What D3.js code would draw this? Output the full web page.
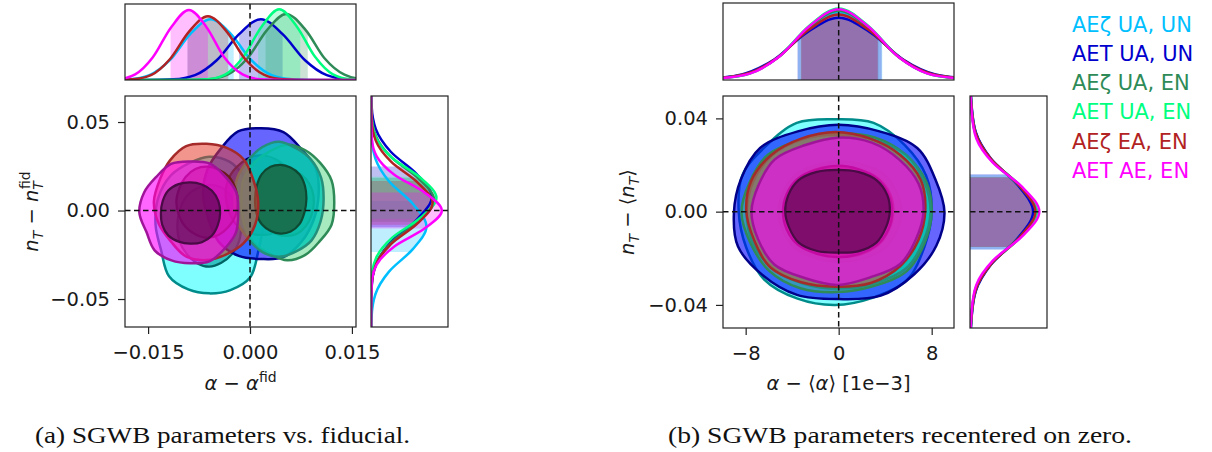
<!DOCTYPE html>
<html>
<head>
<meta charset="utf-8">
<script src="https://cdn.jsdelivr.net/npm/d3@7"></script>
<style>
  body { margin: 0; background: #fff; }
  svg { display: block; }
</style>
</head>
<body>
<svg id="chart" width="1212" height="452" font-family="DejaVu Sans, sans-serif" fill="#1a1a1a"></svg>
<script>
// ---- series ----
const seriesNames = ["AEζ UA, UN", "AET UA, UN", "AEζ UA, EN", "AET UA, EN", "AEζ EA, EN", "AET AE, EN"];
const lineColors = ["#00bfff", "#0000cd", "#2e8b57", "#00ff7f", "#b22222", "#ff00ff"];
const outerFill = ["#00ffff", "#0000ff", "#3cd070", "#00c8b4", "#e84030", "#ff00ff"];
const outerAlpha = [0.5, 0.6, 0.45, 0.8, 0.55, 0.6];
const innerFill = ["#009a9a", "#0000a8", "#1e7a4a", "#1a6a48", "#8b2a2a", "#3a0535"];
const innerAlpha = [0.6, 0.6, 0.6, 0.9, 0.55, 0.55];
const outerEdge = ["#008b8b", "#00008b", "#2e8b57", "#24907c", "#a52a2a", "#a0149a"];
const innerEdge = ["#006464", "#000066", "#1e5b3a", "#0e4a33", "#6a1a1a", "#4a0a45"];

// ---- panel (a): vs fiducial ----
const xDomainA = [-0.0184, 0.0156];
const yDomainA = [-0.0658, 0.0647];
const xTicksA = [-0.015, 0, 0.015];
const xTickLabelsA = ["−0.015", "0.000", "0.015"];
const yTicksA = [-0.05, 0, 0.05];
const yTickLabelsA = ["−0.05", "0.00", "0.05"];

// 2D contours: [centre x, centre y, radius x, radius y]
const outerA = [
  [-0.0060, -0.0082, 0.0079, 0.0386],
  [0.0016, 0.0090, 0.0085, 0.0375],
  [0.0055, 0.0045, 0.0069, 0.0320],
  [0.0043, 0.0062, 0.0066, 0.0320],
  [-0.0064, 0.0050, 0.0076, 0.0330],
  [-0.0088, -0.0012, 0.0072, 0.0292]
];
const innerA = [
  [-0.0060, -0.0085, 0.0047, 0.0230],
  [0.0016, 0.0085, 0.0052, 0.0225],
  [0.0053, 0.0045, 0.0041, 0.0190],
  [0.0045, 0.0064, 0.0038, 0.0194],
  [-0.0063, 0.0048, 0.0045, 0.0200],
  [-0.0088, -0.0015, 0.0044, 0.0174]
];
// edge wobble, 16 directions starting east, counter-clockwise
const wobOuterA = [
  [1.0, 1.02, 0.97, 1.0, 1.0, 0.98, 1.02, 1.03, 1.0, 0.97, 1.06, 1.02, 1.0, 1.03, 1.08, 0.99],
  [1.0, 1.03, 0.98, 1.02, 1.0, 1.03, 0.98, 1.0, 1.0, 0.98, 1.02, 1.0, 0.97, 1.02, 1.0, 0.99],
  [1.0, 1.02, 0.99, 1.0, 1.02, 0.98, 1.0, 1.02, 0.98, 1.0, 1.01, 0.98, 1.02, 1.0, 0.97, 1.02],
  [0.99, 1.01, 1.0, 0.98, 1.02, 1.0, 0.98, 1.01, 1.0, 1.02, 0.98, 1.0, 1.01, 0.99, 1.02, 1.0],
  [1.0, 0.98, 1.02, 1.0, 0.99, 1.03, 1.0, 0.98, 1.02, 1.0, 0.97, 1.02, 1.0, 0.98, 1.01, 1.02],
  [0.98, 1.02, 1.0, 1.03, 0.99, 1.02, 0.98, 1.02, 1.04, 0.97, 1.03, 1.0, 0.98, 1.02, 0.99, 1.01]
];
const wobInnerA = [
  [1.0, 1.01, 0.99, 1.01, 1.0, 0.99, 1.01, 1.0, 1.0, 1.01, 0.99, 1.0, 1.01, 0.99, 1.0, 1.01],
  [1.0, 0.99, 1.01, 1.0, 1.01, 1.0, 0.99, 1.01, 1.0, 0.99, 1.01, 1.0, 0.99, 1.01, 1.0, 1.0],
  [1.0, 1.01, 1.0, 0.99, 1.01, 1.0, 1.02, 1.0, 0.99, 1.0, 1.01, 1.0, 0.99, 1.01, 1.0, 0.99],
  [1.0, 1.02, 1.03, 1.0, 1.0, 1.02, 1.03, 1.0, 0.99, 1.02, 1.03, 1.0, 1.0, 1.02, 1.03, 1.0],
  [1.0, 1.0, 1.01, 0.99, 1.0, 1.01, 1.0, 0.99, 1.01, 1.0, 1.0, 0.99, 1.01, 1.0, 0.99, 1.0],
  [1.0, 1.02, 1.03, 1.01, 1.0, 1.02, 1.04, 1.0, 0.98, 1.01, 1.03, 1.0, 0.99, 1.02, 1.03, 1.0]
];

// 1D marginals: [value, relative density]
const topA = [
  [[-0.0218, 0], [-0.0178, 0.009], [-0.0148, 0.064], [-0.0118, 0.26], [-0.0088, 0.604], [-0.0058, 0.80], [-0.0028, 0.604], [0.0002, 0.26], [0.0032, 0.064], [0.0062, 0.009], [0.0102, 0]],
  [[-0.0156, 0], [-0.0113, 0.009], [-0.0081, 0.064], [-0.0049, 0.26], [-0.0016, 0.604], [0.0016, 0.80], [0.0048, 0.604], [0.0081, 0.26], [0.0113, 0.064], [0.0145, 0.009], [0.0188, 0]],
  [[-0.0099, 0], [-0.0061, 0.0097], [-0.0033, 0.070], [-0.0004, 0.283], [0.0025, 0.657], [0.0053, 0.87], [0.0082, 0.657], [0.011, 0.283], [0.0139, 0.070], [0.0167, 0.0097], [0.0205, 0]],
  [[-0.0097, 0], [-0.0062, 0.010], [-0.0036, 0.074], [-0.0010, 0.302], [0.0017, 0.702], [0.0043, 0.93], [0.0069, 0.702], [0.0096, 0.302], [0.0122, 0.074], [0.0148, 0.010], [0.0183, 0]],
  [[-0.021, 0], [-0.0173, 0.0093], [-0.0145, 0.067], [-0.0118, 0.273], [-0.009, 0.634], [-0.0062, 0.84], [-0.0034, 0.634], [-0.0007, 0.273], [0.0021, 0.067], [0.0049, 0.0093], [0.0086, 0]],
  [[-0.023, 0], [-0.0195, 0.010], [-0.0169, 0.074], [-0.0143, 0.299], [-0.0116, 0.695], [-0.009, 0.92], [-0.0064, 0.695], [-0.0038, 0.299], [-0.0011, 0.074], [0.0015, 0.010], [0.005, 0]]
];
const sideA = [
  [[-0.077, 0], [-0.060, 0.008], [-0.0473, 0.057], [-0.0345, 0.234], [-0.0218, 0.543], [-0.009, 0.72], [0.0038, 0.543], [0.0165, 0.234], [0.0293, 0.057], [0.042, 0.008], [0.059, 0]],
  [[-0.0603, 0], [-0.0433, 0.0087], [-0.0306, 0.063], [-0.0178, 0.257], [-0.0051, 0.596], [0.0077, 0.79], [0.0205, 0.596], [0.0332, 0.257], [0.046, 0.063], [0.0587, 0.0087], [0.0757, 0]],
  [[-0.058, 0], [-0.042, 0.009], [-0.030, 0.065], [-0.018, 0.266], [-0.006, 0.619], [0.006, 0.82], [0.018, 0.619], [0.030, 0.266], [0.042, 0.065], [0.054, 0.009], [0.070, 0]],
  [[-0.0528, 0], [-0.0378, 0.0094], [-0.0266, 0.068], [-0.0153, 0.276], [-0.0041, 0.642], [0.0072, 0.85], [0.0185, 0.642], [0.0297, 0.276], [0.041, 0.068], [0.0522, 0.0094], [0.0672, 0]],
  [[-0.0577, 0], [-0.0422, 0.0089], [-0.0306, 0.064], [-0.019, 0.26], [-0.0073, 0.604], [0.0043, 0.80], [0.0159, 0.604], [0.0276, 0.26], [0.0392, 0.064], [0.0508, 0.0089], [0.0663, 0]],
  [[-0.0544, 0], [-0.0408, 0.010], [-0.0306, 0.074], [-0.0204, 0.299], [-0.0102, 0.695], [0, 0.92], [0.0102, 0.695], [0.0204, 0.299], [0.0306, 0.074], [0.0408, 0.010], [0.0544, 0]]
];
const bandTopA = [[-0.0092, -0.0024], [-0.0016, 0.0048], [0.0023, 0.0085], [0.0012, 0.0074], [-0.0092, -0.0032], [-0.0117, -0.0062]];
const bandSideA = [[-0.0235, 0.0055], [-0.0095, 0.0249], [-0.0064, 0.0184], [-0.0047, 0.0191], [-0.0081, 0.0167], [-0.0102, 0.0102]];

// ---- panel (b): recentered ----
const xDomainB = [-9.95, 9.92];
const yDomainB = [-0.0499, 0.0496];
const xTicksB = [-8, 0, 8];
const xTickLabelsB = ["−8", "0", "8"];
const yTicksB = [-0.04, 0, 0.04];
const yTickLabelsB = ["−0.04", "0.00", "0.04"];

const outerB = [
  [-0.3, 0.0, 8.3, 0.0396],
  [0.0, -0.0003, 9.1, 0.0372],
  [-0.1, -0.0005, 8.1, 0.0340],
  [0.0, 0.0, 7.9, 0.0330],
  [-0.25, 0.0005, 7.7, 0.0330],
  [-0.1, 0.0, 7.4, 0.0308]
];
const innerB = [
  [-0.2, 0.0, 4.9, 0.0205],
  [0.1, 0.0, 5.3, 0.0215],
  [0.0, 0.0, 4.8, 0.0200],
  [0.0, 0.0, 4.7, 0.0195],
  [-0.1, 0.0, 4.7, 0.0195],
  [-0.1, 0.0, 4.5, 0.0179]
];
const wobOuterB = [
  [1.0, 1.02, 1.02, 1.04, 1.0, 1.04, 1.01, 1.04, 1.0, 1.0, 1.04, 1.02, 1.01, 1.01, 1.05, 1.0],
  [1.0, 0.99, 1.05, 1.01, 1.01, 1.01, 1.05, 1.0, 0.99, 1.03, 1.02, 1.03, 1.0, 1.04, 1.01, 1.0],
  [1.0, 1.02, 1.03, 1.03, 1.0, 1.0, 1.04, 1.01, 1.02, 1.0, 1.03, 1.03, 1.0, 1.0, 1.04, 1.0],
  [1.0, 1.01, 1.04, 1.01, 1.0, 1.02, 1.03, 1.01, 1.0, 1.02, 1.03, 1.01, 1.0, 1.01, 1.04, 1.0],
  [1.0, 1.03, 1.02, 1.01, 1.02, 1.01, 1.02, 1.02, 1.0, 0.99, 1.04, 1.01, 0.99, 1.02, 1.02, 1.0],
  [1.0, 1.02, 1.02, 1.04, 1.03, 1.0, 1.03, 0.99, 1.0, 1.0, 1.04, 1.0, 1.02, 0.99, 1.03, 0.99]
];
const wobInnerB = [
  [1.0, 1.01, 1.03, 1.01, 1.0, 1.01, 1.03, 1.0, 1.0, 1.01, 1.03, 1.0, 1.0, 1.01, 1.03, 1.0],
  [1.0, 1.0, 1.03, 1.01, 1.0, 1.01, 1.03, 1.0, 1.0, 1.0, 1.03, 1.01, 1.0, 1.01, 1.03, 1.0],
  [1.0, 1.01, 1.04, 1.0, 1.0, 1.01, 1.03, 1.01, 1.0, 1.0, 1.04, 1.0, 1.0, 1.01, 1.03, 1.0],
  [1.0, 1.02, 1.03, 1.0, 1.0, 1.02, 1.03, 1.0, 1.0, 1.01, 1.03, 1.01, 1.0, 1.02, 1.03, 1.0],
  [1.0, 1.01, 1.03, 1.01, 1.01, 1.0, 1.03, 1.01, 1.0, 1.01, 1.03, 1.0, 1.0, 1.01, 1.03, 1.01],
  [1.0, 1.03, 1.06, 1.03, 1.0, 1.03, 1.06, 1.02, 1.0, 1.0, 1.05, 1.02, 0.98, 1.03, 1.05, 1.0]
];

const topB = [
  [[-14, 0.004], [-10.5, 0.022], [-7.88, 0.079], [-5.25, 0.290], [-2.63, 0.664], [0, 0.88], [2.63, 0.664], [5.25, 0.290], [7.88, 0.079], [10.5, 0.022], [14, 0.004]],
  [[-14.8, 0.003], [-11.1, 0.020], [-8.33, 0.073], [-5.55, 0.267], [-2.78, 0.612], [0, 0.81], [2.78, 0.612], [5.55, 0.267], [8.33, 0.073], [11.1, 0.020], [14.8, 0.003]],
  [[-13.8, 0.004], [-10.35, 0.023], [-7.76, 0.081], [-5.18, 0.297], [-2.59, 0.680], [0, 0.90], [2.59, 0.680], [5.18, 0.297], [7.76, 0.081], [10.35, 0.023], [13.8, 0.004]],
  [[-13.6, 0.004], [-10.2, 0.023], [-7.65, 0.084], [-5.1, 0.307], [-2.55, 0.702], [0, 0.93], [2.55, 0.702], [5.1, 0.307], [7.65, 0.084], [10.2, 0.023], [13.6, 0.004]],
  [[-14.2, 0.003], [-10.65, 0.021], [-7.99, 0.077], [-5.33, 0.281], [-2.66, 0.642], [0, 0.85], [2.66, 0.642], [5.33, 0.281], [7.99, 0.077], [10.65, 0.021], [14.2, 0.003]],
  [[-13.6, 0.004], [-10.2, 0.023], [-7.65, 0.083], [-5.1, 0.304], [-2.55, 0.695], [0, 0.92], [2.55, 0.695], [5.1, 0.304], [7.65, 0.083], [10.2, 0.023], [13.6, 0.004]]
];
const sideB = [
  [[-0.06, 0.003], [-0.045, 0.021], [-0.0338, 0.075], [-0.0225, 0.274], [-0.0113, 0.627], [0, 0.83], [0.0113, 0.627], [0.0225, 0.274], [0.0338, 0.075], [0.045, 0.021], [0.06, 0.003]],
  [[-0.0608, 0.003], [-0.0456, 0.0205], [-0.0342, 0.074], [-0.0228, 0.271], [-0.0114, 0.619], [0, 0.82], [0.0114, 0.619], [0.0228, 0.271], [0.0342, 0.074], [0.0456, 0.0205], [0.0608, 0.003]],
  [[-0.058, 0.003], [-0.0435, 0.0215], [-0.0326, 0.077], [-0.0218, 0.284], [-0.0109, 0.649], [0, 0.86], [0.0109, 0.649], [0.0218, 0.284], [0.0326, 0.077], [0.0435, 0.0215], [0.058, 0.003]],
  [[-0.058, 0.003], [-0.0435, 0.022], [-0.0326, 0.078], [-0.0218, 0.287], [-0.0109, 0.657], [0, 0.87], [0.0109, 0.657], [0.0218, 0.287], [0.0326, 0.078], [0.0435, 0.022], [0.058, 0.003]],
  [[-0.0592, 0.003], [-0.0444, 0.021], [-0.0333, 0.077], [-0.0222, 0.281], [-0.0111, 0.642], [0, 0.85], [0.0111, 0.642], [0.0222, 0.281], [0.0333, 0.077], [0.0444, 0.021], [0.0592, 0.003]],
  [[-0.056, 0.004], [-0.042, 0.0225], [-0.0315, 0.081], [-0.021, 0.297], [-0.0105, 0.680], [0, 0.90], [0.0105, 0.680], [0.021, 0.297], [0.0315, 0.081], [0.042, 0.0225], [0.056, 0.004]]
];
const bandTopB = [[-3.5, 3.75], [-3.55, 3.7], [-3.2, 3.4], [-3.2, 3.4], [-3.25, 3.35], [-3.2, 3.4]];
const bandSideB = [[-0.0162, 0.0158], [-0.0162, 0.0160], [-0.0152, 0.0148], [-0.0152, 0.0148], [-0.0152, 0.0148], [-0.0150, 0.0146]];

const captions = ["(a) SGWB parameters vs. fiducial.", "(b) SGWB parameters recentered on zero."];

// ---- drawing ----
const svg = d3.select("#chart");
const defs = svg.append("defs");

const panels = [
  {
    id: "a",
    main: { x0: 125, x1: 356, y0: 96, y1: 327 },
    topBox: { y0: 4, y1: 80 },
    sideBox: { x0: 371, x1: 448 },
    xDomain: xDomainA, yDomain: yDomainA,
    xTicks: xTicksA, xTickLabels: xTickLabelsA, yTicks: yTicksA, yTickLabels: yTickLabelsA,
    outer: outerA, inner: innerA, wobO: wobOuterA, wobI: wobInnerA,
    top: topA, side: sideA, bandTop: bandTopA, bandSide: bandSideA,
    xLabel: [{ t: "α", it: true }, { t: " − " }, { t: "α", it: true }, { t: "fid", sup: true }],
    yLabel: [{ t: "n", it: true }, { t: "T", it: true, sub: true }, { t: " − " }, { t: "n", it: true },
             { t: "T", it: true, sub: true }, { t: "fid", sup: true, dx: -8 }],
    yLabelX: 38,
    caption: captions[0], captionX: 35, captionW: 375
  },
  {
    id: "b",
    main: { x0: 723, x1: 954, y0: 96, y1: 328 },
    topBox: { y0: 3, y1: 80 },
    sideBox: { x0: 970, x1: 1047 },
    xDomain: xDomainB, yDomain: yDomainB,
    xTicks: xTicksB, xTickLabels: xTickLabelsB, yTicks: yTicksB, yTickLabels: yTickLabelsB,
    outer: outerB, inner: innerB, wobO: wobOuterB, wobI: wobInnerB,
    top: topB, side: sideB, bandTop: bandTopB, bandSide: bandSideB,
    xLabel: [{ t: "α", it: true }, { t: " − ⟨" }, { t: "α", it: true }, { t: "⟩ [1e−3]" }],
    yLabel: [{ t: "n", it: true }, { t: "T", it: true, sub: true }, { t: " − ⟨" }, { t: "n", it: true },
             { t: "T", it: true, sub: true }, { t: "⟩" }],
    yLabelX: 634,
    caption: captions[1], captionX: 668, captionW: 464
  }
];

function mathLabel(sel, parts) {
  let shift = 0;
  parts.forEach(p => {
    const target = p.sub ? 5 : p.sup ? -8 : 0;
    const ts = sel.append("tspan").text(p.t).attr("dy", target - shift);
    shift = target;
    if (p.it) ts.attr("font-style", "italic");
    if (p.sub || p.sup) ts.attr("font-size", 14);
    if (p.dx) ts.attr("dx", p.dx);
  });
}

function ring(c, wob) {
  return wob.map((w, i) => {
    const t = 2 * Math.PI * i / wob.length;
    return [c[0] + c[2] * w * Math.cos(t), c[1] + c[3] * w * Math.sin(t)];
  });
}

function clipRect(id, x, y, w, h) {
  defs.append("clipPath").attr("id", id)
    .append("rect").attr("x", x).attr("y", y).attr("width", w).attr("height", h);
  return "url(#" + id + ")";
}

function drawPanel(p) {
  const m = p.main;
  const x = d3.scaleLinear().domain(p.xDomain).range([m.x0, m.x1]);
  const y = d3.scaleLinear().domain(p.yDomain).range([m.y1, m.y0]);
  const hTop = d3.scaleLinear().domain([0, 1]).range([p.topBox.y1, p.topBox.y0]);
  const hSide = d3.scaleLinear().domain([0, 1]).range([p.sideBox.x0, p.sideBox.x1]);

  // ----- 2D contours -----
  const gMain = svg.append("g")
    .attr("clip-path", clipRect("clip-main-" + p.id, m.x0, m.y0, m.x1 - m.x0, m.y1 - m.y0));
  const contour = d3.line().x(d => x(d[0])).y(d => y(d[1])).curve(d3.curveCatmullRomClosed.alpha(0.5));
  seriesNames.forEach((s, i) => {
    gMain.append("path").attr("d", contour(ring(p.outer[i], p.wobO[i])))
      .attr("fill", outerFill[i]).attr("fill-opacity", outerAlpha[i])
      .attr("stroke", outerEdge[i]).attr("stroke-width", 2.5);
    gMain.append("path").attr("d", contour(ring(p.inner[i], p.wobI[i])))
      .attr("fill", innerFill[i]).attr("fill-opacity", innerAlpha[i])
      .attr("stroke", innerEdge[i]).attr("stroke-width", 2.2);
  });

  // ----- top marginal -----
  const tb = p.topBox;
  const gTop = svg.append("g")
    .attr("clip-path", clipRect("clip-top-" + p.id, m.x0, tb.y0, m.x1 - m.x0, tb.y1 - tb.y0));
  const areaTop = d3.area().x(d => x(d[0])).y0(hTop(0)).y1(d => hTop(d[1])).curve(d3.curveMonotoneX);
  const lineTop = d3.line().x(d => x(d[0])).y(d => hTop(d[1])).curve(d3.curveMonotoneX);
  const padTop = k => [[p.xDomain[0] - 1, 0], ...k, [p.xDomain[1] + 1, 0]];
  seriesNames.forEach((s, i) => {
    const b = p.bandTop[i];
    const cid = clipRect("clip-bt-" + p.id + i, x(b[0]), tb.y0, x(b[1]) - x(b[0]), tb.y1 - tb.y0);
    gTop.append("g").attr("clip-path", cid).append("path")
      .attr("d", areaTop(p.top[i])).attr("fill", lineColors[i]).attr("fill-opacity", 0.25);
  });
  seriesNames.forEach((s, i) => {
    gTop.append("path").attr("d", lineTop(padTop(p.top[i])))
      .attr("fill", "none").attr("stroke", lineColors[i]).attr("stroke-width", 2.5);
  });

  // ----- side marginal -----
  const sb = p.sideBox;
  const gSide = svg.append("g")
    .attr("clip-path", clipRect("clip-side-" + p.id, sb.x0, m.y0, sb.x1 - sb.x0, m.y1 - m.y0));
  const areaSide = d3.area().y(d => y(d[0])).x0(hSide(0)).x1(d => hSide(d[1])).curve(d3.curveMonotoneY);
  const lineSide = d3.line().y(d => y(d[0])).x(d => hSide(d[1])).curve(d3.curveMonotoneY);
  const padSide = k => [[p.yDomain[0] - 1, 0], ...k, [p.yDomain[1] + 1, 0]];
  seriesNames.forEach((s, i) => {
    const b = p.bandSide[i];
    const cid = clipRect("clip-bs-" + p.id + i, sb.x0, y(b[1]), sb.x1 - sb.x0, y(b[0]) - y(b[1]));
    gSide.append("g").attr("clip-path", cid).append("path")
      .attr("d", areaSide(p.side[i])).attr("fill", lineColors[i]).attr("fill-opacity", 0.25);
  });
  seriesNames.forEach((s, i) => {
    gSide.append("path").attr("d", lineSide(padSide(p.side[i])))
      .attr("fill", "none").attr("stroke", lineColors[i]).attr("stroke-width", 2.5);
  });

  // ----- reference dashed lines -----
  const dash = "5.5,3.5";
  svg.append("line").attr("x1", x(0)).attr("x2", x(0)).attr("y1", m.y0).attr("y2", m.y1)
    .attr("stroke", "#111").attr("stroke-width", 1.5).attr("stroke-dasharray", dash);
  svg.append("line").attr("x1", m.x0).attr("x2", m.x1).attr("y1", y(0)).attr("y2", y(0))
    .attr("stroke", "#111").attr("stroke-width", 1.5).attr("stroke-dasharray", dash);
  svg.append("line").attr("x1", x(0)).attr("x2", x(0)).attr("y1", tb.y0).attr("y2", tb.y1)
    .attr("stroke", "#111").attr("stroke-width", 1.5).attr("stroke-dasharray", dash);
  svg.append("line").attr("x1", sb.x0).attr("x2", sb.x1).attr("y1", y(0)).attr("y2", y(0))
    .attr("stroke", "#111").attr("stroke-width", 1.5).attr("stroke-dasharray", dash);

  // ----- frames -----
  [[m.x0, m.y0, m.x1, m.y1], [m.x0, tb.y0, m.x1, tb.y1], [sb.x0, m.y0, sb.x1, m.y1]].forEach(r => {
    svg.append("rect").attr("x", r[0]).attr("y", r[1]).attr("width", r[2] - r[0]).attr("height", r[3] - r[1])
      .attr("fill", "none").attr("stroke", "#222").attr("stroke-width", 1.2);
  });

  // ----- axes -----
  const ax = svg.append("g").attr("transform", `translate(0,${m.y1})`)
    .call(d3.axisBottom(x).tickValues(p.xTicks).tickFormat((d, i) => p.xTickLabels[i]).tickSize(7).tickPadding(11));
  const ay = svg.append("g").attr("transform", `translate(${m.x0},0)`)
    .call(d3.axisLeft(y).tickValues(p.yTicks).tickFormat((d, i) => p.yTickLabels[i]).tickSize(7).tickPadding(8));
  [ax, ay].forEach(a => {
    a.select(".domain").remove();
    a.selectAll("line").attr("stroke", "#222").attr("stroke-width", 1.2);
    a.selectAll("text").attr("font-size", 19.5).attr("font-family", "DejaVu Sans").attr("fill", "#1a1a1a");
  });

  // ----- axis labels -----
  const xl = svg.append("text").attr("x", (m.x0 + m.x1) / 2).attr("y", 390)
    .attr("text-anchor", "middle").attr("font-size", 19.5);
  mathLabel(xl, p.xLabel);
  const yl = svg.append("text")
    .attr("transform", `translate(${p.yLabelX},${(m.y0 + m.y1) / 2}) rotate(-90)`)
    .attr("text-anchor", "middle").attr("font-size", 19.5);
  mathLabel(yl, p.yLabel);

  // ----- caption -----
  svg.append("text").attr("x", p.captionX).attr("y", 443)
    .attr("font-family", "Liberation Serif, serif").attr("font-size", 24).attr("fill", "#111")
    .attr("textLength", p.captionW).attr("lengthAdjust", "spacingAndGlyphs")
    .text(p.caption);
}

panels.forEach(drawPanel);

// ----- legend -----
svg.append("g").selectAll("text").data(seriesNames).join("text")
  .attr("x", 1072).attr("y", (d, i) => 31.5 + i * 29.3)
  .attr("font-size", 21).attr("fill", (d, i) => lineColors[i])
  .text(d => d);
</script>
</body>
</html>
